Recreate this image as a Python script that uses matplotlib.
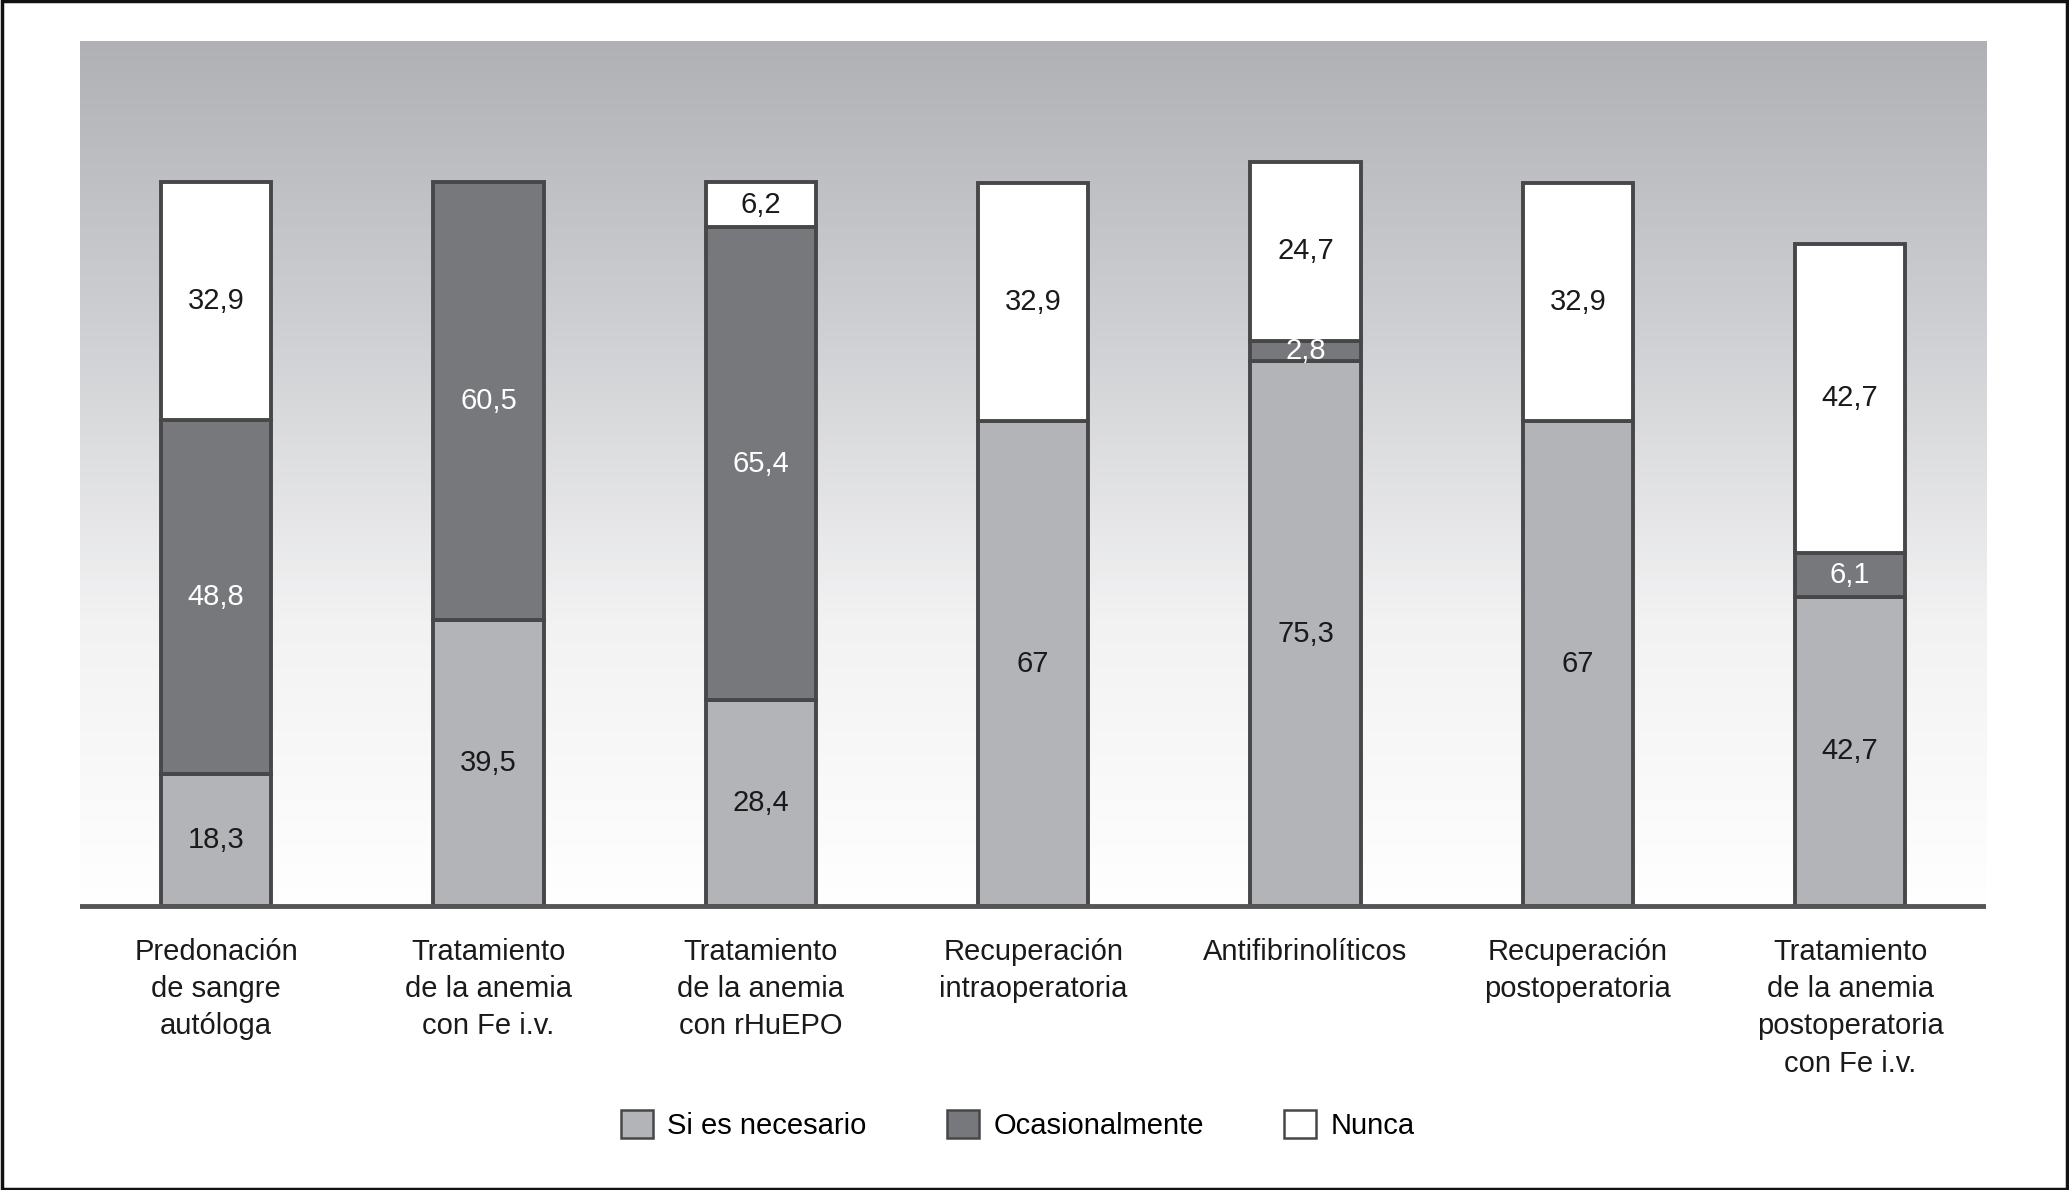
import numpy as np
import matplotlib
matplotlib.use("Agg")
import matplotlib.pyplot as plt
from matplotlib.patches import Patch, Rectangle
from matplotlib.colors import LinearSegmentedColormap

plt.rcParams['font.family'] = ['Liberation Sans', 'DejaVu Sans']

categorias = ["Predonación\nde sangre\nautóloga",
              "Tratamiento\nde la anemia\ncon Fe i.v.",
              "Tratamiento\nde la anemia\ncon rHuEPO",
              "Recuperación\nintraoperatoria",
              "Antifibrinolíticos",
              "Recuperación\npostoperatoria",
              "Tratamiento\nde la anemia\npostoperatoria\ncon Fe i.v."]

si_necesario = [18.3, 39.5, 28.4, 67, 75.3, 67, 42.7]
ocasionalmente = [48.8, 60.5, 65.4, 0, 2.8, 0, 6.1]
nunca = [32.9, 0, 6.2, 32.9, 24.7, 32.9, 42.7]

series = ["Si es necesario", "Ocasionalmente", "Nunca"]
colores = ["#b3b4b8", "#77787c", "#ffffff"]
color_texto = ["#1a1a1a", "#ffffff", "#1a1a1a"]
borde = "#474749"

fig = plt.figure(figsize=(20.69, 11.90), dpi=100)
ax = fig.add_axes([0.0387, 0.2328, 0.9213, 0.7327])

ymin, ymax = -0.96, 119.5
x = np.arange(len(categorias))

# fondo degradado gris -> blanco
cmap = LinearSegmentedColormap.from_list("fondo", ["#ffffff", "#f2f2f3", "#cfd0d3", "#b0b1b5"])
grad = np.linspace(0, 1, 256).reshape(-1, 1)
ax.imshow(grad, cmap=cmap, aspect="auto", origin="lower",
          extent=[-0.5, len(categorias) - 0.5, ymin, ymax], zorder=0)

bottom = np.zeros(len(categorias))
for vals, nombre, col, tc in zip([si_necesario, ocasionalmente, nunca], series, colores, color_texto):
    vals = np.array(vals, dtype=float)
    mask = vals > 0
    ax.bar(x[mask], vals[mask], bottom=bottom[mask], width=0.405, color=col,
           edgecolor=borde, linewidth=2.8, zorder=3)
    for xi, v, b in zip(x, vals, bottom):
        if v > 0:
            etiqueta = ("%g" % v).replace(".", ",")
            ax.text(xi, b + v / 2, etiqueta, ha="center", va="center",
                    fontsize=21, color=tc, zorder=4)
    bottom = bottom + vals

ax.axhline(0, color="#555557", linewidth=3.5, zorder=5)

ax.set_xlim(-0.5, len(categorias) - 0.5)
ax.set_ylim(ymin, ymax)
ax.set_yticks([])
ax.set_xticks(x)
ax.set_xticklabels(categorias, fontsize=21, linespacing=1.42, color="#1a1a1a")
ax.tick_params(axis="x", length=0, pad=18)
for s in ax.spines.values():
    s.set_visible(False)

handles = [Patch(facecolor=c, edgecolor=borde, linewidth=1.8) for c in colores]
fig.legend(handles, series, loc="center", bbox_to_anchor=(0.492, 0.0546), ncol=3,
           frameon=False, fontsize=21, handlelength=1.1, handleheight=1.1,
           handletextpad=0.5, columnspacing=2.75)

# marco exterior
fig.patches.append(Rectangle((0.001, 0.001), 0.998, 0.998, transform=fig.transFigure,
                             fill=False, edgecolor="#111111", linewidth=2.5))

fig.savefig("out.png", dpi=100)
